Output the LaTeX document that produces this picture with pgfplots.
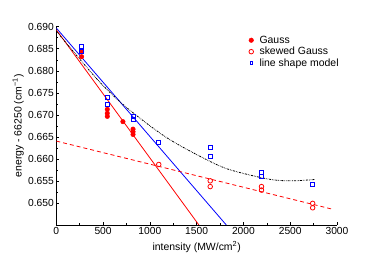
\documentclass[border=0pt]{standalone}
\usepackage{pgfplots}
\pgfplotsset{compat=1.18}
\usepackage{fontspec}
\setmainfont{Liberation Sans}
\begin{document}
\begin{tikzpicture}[x=1bp,y=1bp]
\useasboundingbox (0,0) rectangle (374,265);
\begin{axis}[
  at={(56.3bp,40bp)}, anchor=south west,
  scale only axis, width=280.7bp, height=198.3bp,
  xmin=0, xmax=3000, ymin=0.6451, ymax=0.690,
  axis x line*=bottom, axis y line*=left,
  axis line style={line width=0.8pt,-},
  tick align=inside,
  major tick length=3bp, minor tick length=1.8bp,
  every tick/.style={black,line width=0.6pt},
  xtick={0,500,1000,1500,2000,2500,3000},
  ytick={0.650,0.655,0.660,0.665,0.670,0.675,0.680,0.685,0.690},
  minor x tick num=1, minor y tick num=1,
  /pgf/number format/assume math mode=true,
  xticklabel style={/pgf/number format/fixed,/pgf/number format/1000 sep={},yshift=1bp},
  yticklabel style={/pgf/number format/fixed,/pgf/number format/fixed zerofill,/pgf/number format/precision=3,xshift=1bp},
  scaled y ticks=false,
  tick label style={font=\fontsize{10.3}{11}\selectfont},
  label style={font=\fontsize{10.5}{12}\selectfont},
  xlabel={intensity (MW/cm\textsuperscript{2})},
  ylabel={energy - 66250 (cm\textsuperscript{−1})},
  xlabel style={at={(axis description cs:0.5,0)},anchor=north,yshift=-13bp},
  ylabel style={at={(axis description cs:0,0.5)},anchor=south,xshift=0bp,yshift=29bp},
  legend style={at={(axis description cs:0.675,0.975)},anchor=north west,draw=none,fill=none,
    font=\fontsize{10.5}{12}\selectfont,row sep=-1.5pt},
  legend cell align=left,
  clip=true,
]
% fitted lines
\addplot[red, line width=0.8pt, forget plot] coordinates {(0,0.6893) (1524,0.6451)};
\addplot[blue, line width=0.8pt, forget plot] coordinates {(0,0.6897) (1817,0.6451)};
\addplot[red, line width=0.8pt, dashed, dash pattern=on 4pt off 3pt, forget plot] coordinates {(0,0.6641) (2966,0.6486)};
\addplot[black, line width=0.8pt, smooth, dash pattern=on 2pt off 1pt on 0.6pt off 1pt on 0.6pt off 1pt, forget plot] coordinates {
(0,0.6890) (445,0.6779) (763,0.6715) (1171,0.6650) (1559,0.6604) (1842,0.6577) (2266,0.6555) (2513,0.6551) (2760,0.6554)};
% data
\addplot[only marks, mark=*, red, mark size=2.3pt] coordinates {
(270,0.6843) (270,0.6832)
(545,0.6713) (545,0.6704) (545,0.6697)
(712,0.6685)
(820,0.6668) (820,0.6662) (820,0.6656)};
\addlegendentry{\hspace*{4pt}Gauss}
\addplot[only marks, mark=o, red, mark size=2.3pt, line width=0.8pt] coordinates {
(1095,0.6588)
(1645,0.6551) (1645,0.6538)
(2193,0.6538) (2193,0.6530)
(2740,0.6500) (2740,0.6490)};
\addlegendentry{\hspace*{4pt}skewed Gauss}
\addplot[only marks, mark=square, blue, mark size=2pt, line width=0.8pt, legend image post style={blue, mark size=1.4pt, line width=0.7pt}] coordinates {
(270,0.6856) (270,0.6843)
(545,0.6740) (545,0.6724)
(820,0.6698) (820,0.6691)
(1095,0.6638)
(1645,0.6626) (1645,0.6606)
(2193,0.6570) (2193,0.6562)
(2740,0.6544)};
\addlegendentry{\hspace*{4pt}line shape model}
\end{axis}
\end{tikzpicture}
\end{document}
